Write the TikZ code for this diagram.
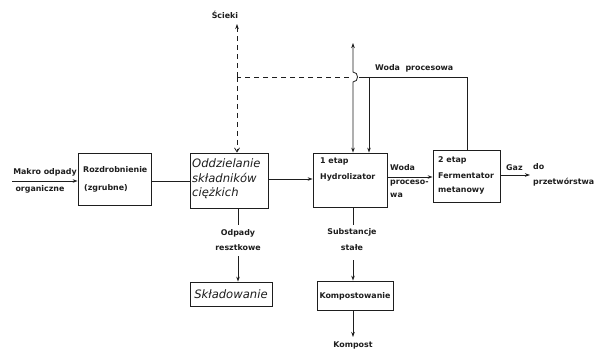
\documentclass[tikz,border=0pt]{standalone}
\usepackage{fontspec}
\setmainfont{DejaVu Sans}
\usetikzlibrary{arrows.meta,fit}
\definecolor{ink}{HTML}{1E1E1E}
\begin{document}
\begin{tikzpicture}[x=1pt,y=-1pt,
  box/.style={draw=ink, line width=0.8pt, inner sep=0pt},
  lbl/.style={font=\fontsize{7.9}{9}\selectfont\bfseries, text=ink, inner sep=0pt},
  llbl/.style={lbl, anchor=west},
  hand/.style={font=\fontsize{11.6}{13}\selectfont\itshape, text=ink, inner sep=0pt, anchor=west},
  ln/.style={draw=ink, line width=0.8pt},
  tip/.style={-{Stealth[length=5pt,width=3.5pt]}},
  arr/.style={ln, tip},
  dsh/.style={ln, dash pattern=on 5pt off 4pt},
]
\useasboundingbox[fill=white] (0,0) rectangle (603,350);

% boxes
\node[box, fit={(78,153)(151,205)}] (rozd) {};
\node[box, fit={(190,153)(268,208)}] (odd) {};
\node[box, fit={(313,153)(387,207)}] (hyd) {};
\node[box, fit={(433,150)(500,202)}] (ferm) {};
\node[box, fit={(190,282)(272,306)}] (skl) {};
\node[box, fit={(317,281)(393,310)}] (komp) {};

% texts
\node[lbl] (makro) at (45,172) {Makro odpady};
\node[lbl] (org) at (40,189) {organiczne};
\node[llbl] (rz1) at (83,170) {Rozdrobnienie};
\node[llbl] (rz2) at (84,188) {(zgrubne)};
\node[hand] (od1) at (192,163) {Oddzielanie};
\node[hand] (od2) at (192,178) {składników};
\node[hand] (od3) at (192,193) {ciężkich};
\node[llbl] (hy1) at (320,161) {1 etap};
\node[llbl] (hy2) at (320,177) {Hydrolizator};
\node[llbl] (wp1) at (390,168) {Woda};
\node[llbl] (wp2) at (390,183) {proceso-};
\node[llbl] (wp3) at (390,195) {wa};
\node[llbl] (fe1) at (438,160) {2 etap};
\node[llbl] (fe2) at (438,176) {Fermentator};
\node[llbl] (fe3) at (438,191) {metanowy};
\node[llbl] (gz1) at (506,168) {Gaz};
\node[llbl] (gz2) at (533,167) {do};
\node[llbl] (gz3) at (533,182) {przetwórstwa};
\node[llbl] (wpr) at (375,68) {Woda\ \ procesowa};
\node[lbl] (sc) at (225,15) {Ścieki};
\node[lbl] (odp1) at (238,233) {Odpady};
\node[lbl] (odp2) at (238,248) {resztkowe};
\node[lbl] (sub1) at (352,232) {Substancje};
\node[lbl] (sub2) at (352,248) {stałe};
\node[lbl] (kpt) at (355,296) {Kompostowanie};
\node[lbl] (kp) at (353,345) {Kompost};
\node[hand, anchor=center] (skt) at (231,294) {Składowanie};

% main flow
\coordinate (inA) at (12,181);
\draw[arr] (inA) -- (inA -| rozd.west);
\draw[ln] (rozd.east |- inA) -- (odd.west |- inA);
\coordinate (yA) at (0,179);
\draw[arr] (odd.east |- yA) -- (hyd.west |- yA);
\coordinate (yB) at (0,177);
\draw[arr] (hyd.east |- yB) -- (ferm.west |- yB);
\coordinate (gazE) at (530,175);
\draw[arr] (ferm.east |- gazE) -- (gazE);

% water loop
\coordinate (wTR) at (467,77);
\coordinate (wIn) at (369,77);
\coordinate (jR) at (359,77);
\draw[ln] (ferm.north -| wTR) -- (wTR) -- (jR);
\draw[arr] (wIn) -- (wIn |- hyd.north);
\coordinate (vTop) at (353,43);
\draw[ln, {Stealth[length=5pt,width=3.5pt]}-{Stealth[length=5pt,width=3.5pt]}]
  (vTop) -- (353,72) .. controls (359,72) and (359,82) .. (353,82) -- (vTop |- hyd.north);

% dashed (Scieki)
\coordinate (dL) at (237,77);
\coordinate (dR) at (349,77);
\coordinate (scE) at (237,24);
\draw[dsh] (dR) -- (dL);
\draw[dsh, tip] (dL) -- (scE);
\draw[dsh, -{Straight Barb[length=4pt,width=5pt]}] (dL) -- (dL |- odd.north);

% downward branches
\coordinate (o1) at (238,225);
\coordinate (o2) at (238,256);
\draw[ln] (o1 |- odd.south) -- (o1);
\draw[arr] (o2) -- (o2 |- skl.north);
\coordinate (h1) at (353,225);
\coordinate (h2) at (353,260);
\draw[ln] (h1 |- hyd.south) -- (h1);
\draw[arr] (h2) -- (h2 |- komp.north);
\coordinate (k1) at (353,337);
\draw[arr] (komp.south -| k1) -- (k1);
\end{tikzpicture}
\end{document}
